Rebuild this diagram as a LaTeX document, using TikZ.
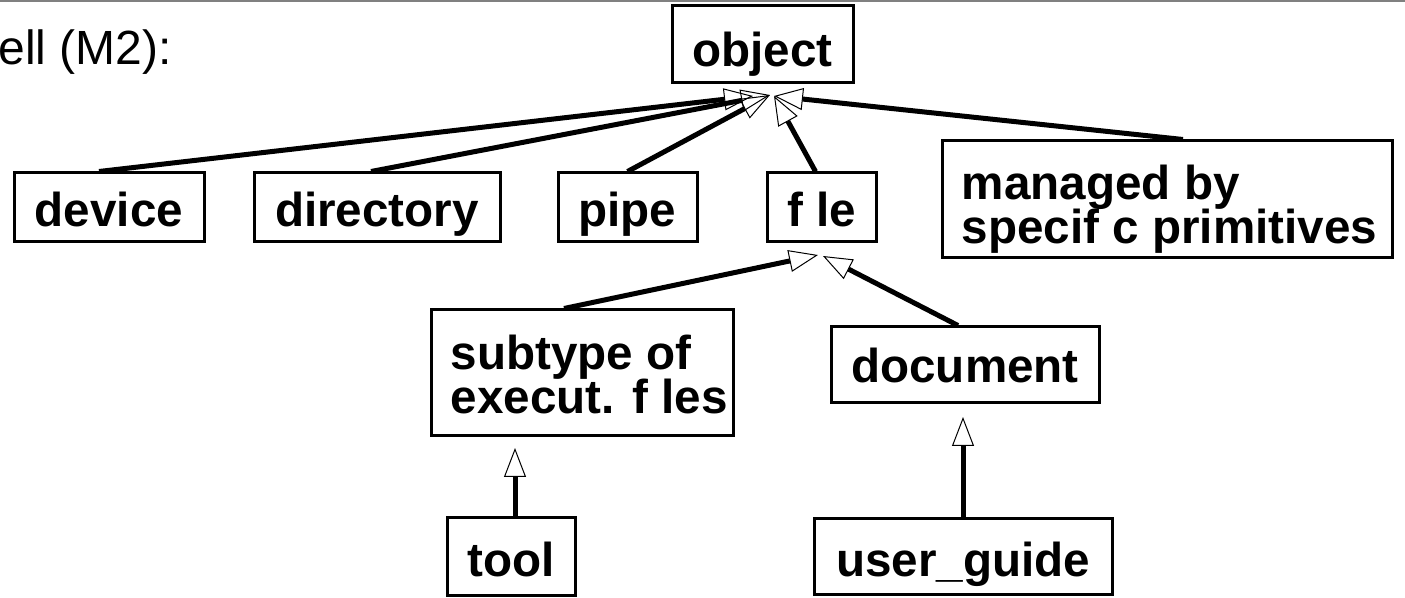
\documentclass[tikz,border=0pt]{standalone}
\usepackage{fontspec}
\setmainfont{Liberation Sans}
\usetikzlibrary{arrows.meta}
\begin{document}
\begin{tikzpicture}[x=0.5pt,y=-0.5pt,
	klasse/.style={draw,line width=1.5pt,inner sep=0pt,text height=20pt,text depth=1pt,font=\fontsize{23.8}{23.8}\selectfont\bfseries},
	kasten/.style={draw,line width=1.5pt,inner sep=0pt},
	zeilen/.style={inner sep=0pt,align=left,anchor=north west,font={\fontsize{23.8}{22}\selectfont\bfseries\lineskiplimit=-30pt}},
	erbt/.style={line width=2.5pt,-{Triangle[open,length=14.5pt,width=11pt,line width=0.5pt]}}]
	\useasboundingbox (0,0) rectangle (1405,598);
	\draw[gray,line width=1pt] (0,1) -- (1405,1);%Linie oben
	\node[anchor=base west,inner sep=0pt,font=\fontsize{24}{24}\selectfont] (titel) at (-2,65) {ell (M2):};

	%Klassen
	\node[klasse,text height=23.5pt,minimum width=90.5pt,minimum height=38.5pt] (object) at (762.5,44.5) {object};
	\node[klasse,minimum width=95pt,minimum height=34.5pt] (device) at (109,207.5) {device};
	\node[klasse,minimum width=123pt,minimum height=34.5pt] (directory) at (377,207.5) {directory};
	\node[klasse,minimum width=69.5pt,minimum height=34.5pt] (pipe) at (627.5,207.5) {pipe};
	\node[klasse,minimum width=54.5pt,minimum height=34.5pt] (file) at (821.5,207.5) {f le};
	\node[kasten,minimum width=225pt,minimum height=58.5pt] (managed) at (1167,199.5) {};
	\node[zeilen] (managedtext) at ([xshift=10.5pt,yshift=-12.5pt]managed.north west) {managed by\\specif c primitives};
	\node[kasten,minimum width=151pt,minimum height=63pt] (subtype) at (582,373) {};
	\node[zeilen] (subtypetext) at ([xshift=10.5pt,yshift=-13pt]subtype.north west) {subtype of\\execut. f les};
	\node[klasse,text height=19pt,minimum width=134pt,minimum height=38pt] (document) at (965,365) {document};
	\node[klasse,text height=21pt,minimum width=64pt,minimum height=39pt] (tool) at (511,557) {tool};
	\node[klasse,text height=21pt,minimum width=149pt,minimum height=38pt] (userguide) at (963,557) {user\_guide};

	%Pfeilspitzen
	\coordinate (objA) at (753,96);
	\coordinate (objB) at (770,95);
	\coordinate (objC) at (774,96);
	\coordinate (fileA) at (818,255);
	\coordinate (fileB) at (823,256);
	\coordinate (subA) at (515,448);
	\coordinate (docA) at (963,417);

	%Vererbung
	\draw[erbt] ([xshift=-5pt]device.north) -- (objA);
	\draw[erbt] ([xshift=-3pt]directory.north) -- (objB);
	\draw[erbt] (pipe.north) -- (objB);
	\draw[erbt] ([xshift=-3pt]file.north) -- (objC);
	\draw[erbt] ([xshift=8pt]managed.north) -- (objC);
	\draw[erbt] ([xshift=-9pt]subtype.north) -- (fileA);
	\draw[erbt] ([xshift=-3.5pt]document.north) -- (fileB);
	\draw[erbt] ([xshift=2pt]tool.north) -- (subA);
	\draw[erbt] (userguide.north) -- (docA);
\end{tikzpicture}
\end{document}
